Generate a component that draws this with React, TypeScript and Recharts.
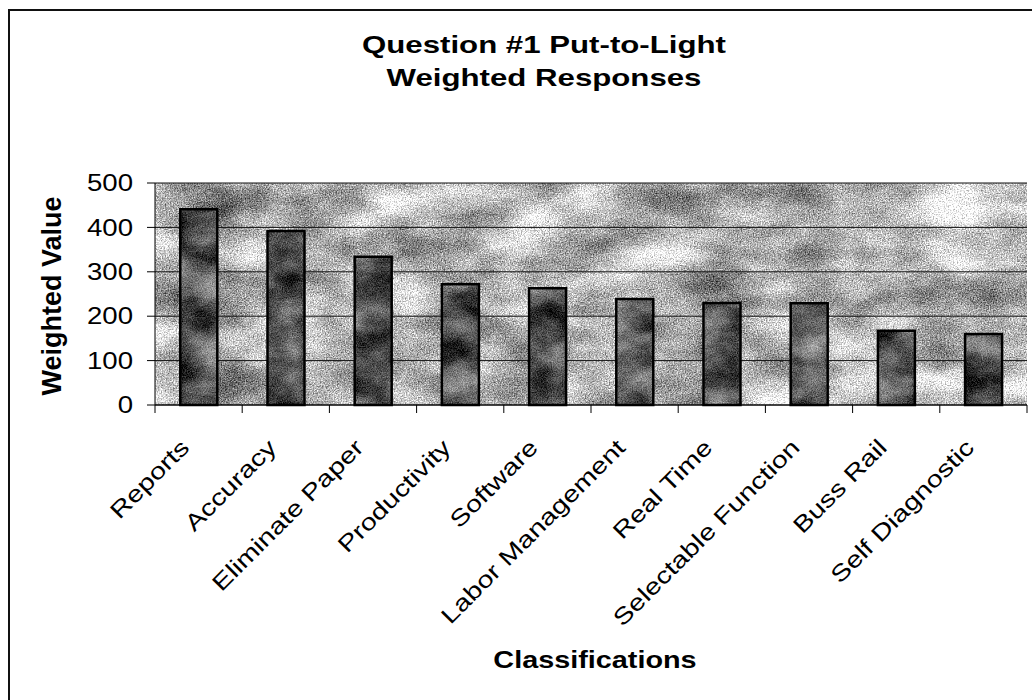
import React from "react";
import { BarChart, Bar, XAxis, YAxis, CartesianGrid } from "recharts";

const categories = [
  "Reports",
  "Accuracy",
  "Eliminate Paper",
  "Productivity",
  "Software",
  "Labor Management",
  "Real Time",
  "Selectable Function",
  "Buss Rail",
  "Self Diagnostic",
];
const weightedValues = [441, 392, 334, 272, 263, 239, 230, 229, 167, 160];
const yTicks = [0, 100, 200, 300, 400, 500];
const titleLines = ["Question #1 Put-to-Light", "Weighted Responses"];
const yTitle = "Weighted Value";
const xTitle = "Classifications";

const data = categories.map((c, i) => ({ name: c, value: weightedValues[i] }));

const FONT = "'Liberation Sans', Arial, Helvetica, sans-serif";

const YTick = (props: any) => {
  const { x, y, payload } = props;
  return (
    <text
      transform={`translate(${x},${y}) scale(1.2,1)`}
      textAnchor="end"
      dy="0.36em"
      fontSize={23}
      fontFamily={FONT}
      fill="#000"
    >
      {payload.value}
    </text>
  );
};

const XTick = (props: any) => {
  const { x, y, payload, index, visibleTicksCount } = props;
  const half = typeof payload.offset === "number" && payload.offset > 0 ? payload.offset : 43.6;
  const last = index === (visibleTicksCount ?? categories.length) - 1;
  return (
    <g>
      <line x1={x - half} x2={x - half} y1={y} y2={y + 8} stroke="#000" strokeWidth={1} />
      {last && <line x1={x + half} x2={x + half} y1={y} y2={y + 8} stroke="#000" strokeWidth={1} />}
      <text
        transform={`translate(${x - 8},${y + 44}) rotate(-45) scale(1.25,1)`}
        textAnchor="end"
        fontSize={23}
        fontFamily={FONT}
        fill="#000"
      >
        {payload.value}
      </text>
    </g>
  );
};

export default function App() {
  return (
    <>
      <div
        style={{
          position: "absolute",
          left: 8,
          top: 9,
          width: 1024,
          height: 691,
          borderTop: "2px solid #111",
          borderLeft: "2px solid #111",
          boxSizing: "border-box",
          background: "#fff",
        }}
      />
      <div style={{ position: "absolute", left: 0, top: 0, width: 1032, height: 700 }}>
        <BarChart
          width={1032}
          height={700}
          data={data}
          margin={{ top: 183, right: 5, bottom: 265, left: 0 }}
          barCategoryGap="29%"
        >
          <defs>
            <filter id="stoneLightF" x="0" y="0" width="1" height="1" colorInterpolationFilters="sRGB">
              <feTurbulence type="fractalNoise" baseFrequency="0.012 0.022" numOctaves={5} seed={11} result="n1" />
              <feColorMatrix
                in="n1"
                type="matrix"
                values="0.9 0 0 0 0.27  0.9 0 0 0 0.27  0.9 0 0 0 0.27  0 0 0 0 1"
                result="g1"
              />
              <feTurbulence type="fractalNoise" baseFrequency="0.75" numOctaves={2} seed={4} result="n2" />
              <feColorMatrix
                in="n2"
                type="matrix"
                values="1 0 0 0 0  1 0 0 0 0  1 0 0 0 0  0 0 0 0 1"
                result="g2"
              />
              <feComposite in="g1" in2="g2" operator="arithmetic" k1={0} k2={1} k3={1.0} k4={-0.52} />
            </filter>
            <filter id="stoneDarkF" x="0" y="0" width="1" height="1" colorInterpolationFilters="sRGB">
              <feTurbulence type="fractalNoise" baseFrequency="0.02 0.03" numOctaves={4} seed={5} result="n1" />
              <feColorMatrix
                in="n1"
                type="matrix"
                values="0.9 0 0 0 -0.13  0.9 0 0 0 -0.13  0.9 0 0 0 -0.13  0 0 0 0 1"
                result="g1"
              />
              <feTurbulence type="fractalNoise" baseFrequency="0.8" numOctaves={2} seed={9} result="n2" />
              <feColorMatrix
                in="n2"
                type="matrix"
                values="1 0 0 0 0  1 0 0 0 0  1 0 0 0 0  0 0 0 0 1"
                result="g2"
              />
              <feComposite in="g1" in2="g2" operator="arithmetic" k1={0} k2={1} k3={0.6} k4={-0.3} />
            </filter>
            <pattern id="stoneLight" patternUnits="userSpaceOnUse" x={0} y={0} width={1032} height={700}>
              <rect x={0} y={0} width={1032} height={700} fill="#bbb" filter="url(#stoneLightF)" />
            </pattern>
            <pattern id="stoneDark" patternUnits="userSpaceOnUse" x={0} y={0} width={1032} height={700}>
              <rect x={0} y={0} width={1032} height={700} fill="#555" filter="url(#stoneDarkF)" />
            </pattern>
          </defs>
          <CartesianGrid
            horizontal={true}
            vertical={false}
            stroke="#111"
            strokeWidth={1}
            fill="url(#stoneLight)"
            fillOpacity={1}
          />
          <XAxis
            dataKey="name"
            type="category"
            height={30}
            interval={0}
            tickSize={0}
            tickMargin={0}
            tickLine={false}
            axisLine={{ stroke: "#000", strokeWidth: 1 }}
            tick={<XTick />}
          />
          <YAxis
            type="number"
            domain={[0, 500]}
            ticks={yTicks}
            width={155}
            tickSize={8}
            tickMargin={14}
            interval={0}
            axisLine={{ stroke: "#000", strokeWidth: 1 }}
            tickLine={{ stroke: "#000", strokeWidth: 1 }}
            tick={<YTick />}
          />
          <Bar
            dataKey="value"
            fill="url(#stoneDark)"
            stroke="#000"
            strokeWidth={2.5}
            isAnimationActive={false}
          />
        </BarChart>
      </div>
      <div
        style={{
          position: "absolute",
          left: 244,
          top: 28,
          width: 600,
          textAlign: "center",
          fontFamily: FONT,
          fontWeight: "bold",
          fontSize: 24,
          lineHeight: "33px",
          color: "#000",
          transform: "scaleX(1.3)",
        }}
      >
        {titleLines.map((l) => (
          <div key={l}>{l}</div>
        ))}
      </div>
      <div
        style={{
          position: "absolute",
          left: 52 - 150,
          top: 296 - 20,
          width: 300,
          height: 40,
          lineHeight: "40px",
          textAlign: "center",
          fontFamily: FONT,
          fontWeight: "bold",
          fontSize: 27,
          color: "#000",
          transform: "rotate(-90deg)",
          whiteSpace: "nowrap",
        }}
      >
        {yTitle}
      </div>
      <div
        style={{
          position: "absolute",
          left: 595 - 200,
          top: 645,
          width: 400,
          textAlign: "center",
          fontFamily: FONT,
          fontWeight: "bold",
          fontSize: 24,
          lineHeight: "30px",
          color: "#000",
          transform: "scaleX(1.2)",
          whiteSpace: "nowrap",
        }}
      >
        {xTitle}
      </div>
    </>
  );
}
